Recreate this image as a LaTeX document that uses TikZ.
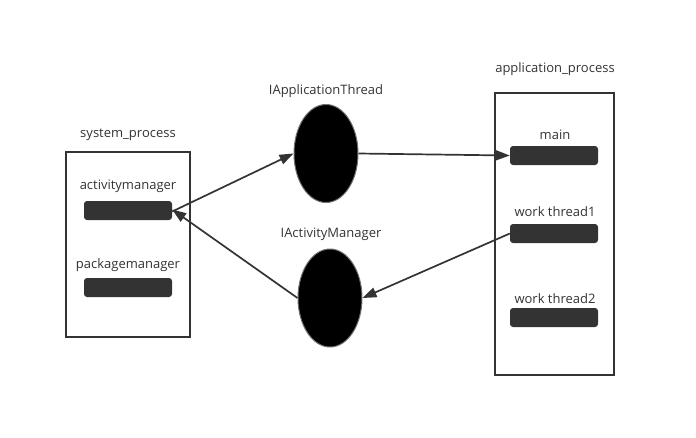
\documentclass[tikz,border=0pt]{standalone}
\usepackage{fontspec}
\setmainfont{Open Sans}
\usetikzlibrary{arrows.meta,shapes.geometric}
\definecolor{dk}{HTML}{333333}
\begin{document}
\begin{tikzpicture}[x=1pt,y=-1pt,
  lbl/.style={font=\fontsize{13}{15}\selectfont, text=dk, inner sep=0pt},
  frame/.style={draw=dk, line width=1.7pt, inner sep=0pt},
  bar/.style={fill=dk, rounded corners=3pt, minimum width=88pt, minimum height=19pt, inner sep=0pt},
  blob/.style={ellipse, fill=black, draw=dk!70, line width=1pt, minimum width=64pt, minimum height=98pt, inner sep=0pt},
  conn/.style={draw=dk, line width=1.7pt, -{Triangle[length=14pt,width=10pt]}}
]
\useasboundingbox (0,0) rectangle (696,437);
% left box
\node[frame, minimum width=124pt, minimum height=185pt] (sys) at (128,244.5) {};
\node[lbl] (syst) at (128,135) {system\_process};
\node[lbl] (amt) at (128,186) {activitymanager};
\node[bar] (am) at (128,210.5) {};
\node[lbl] (pmt) at (128,265) {packagemanager};
\node[bar] (pm) at (128,287.5) {};
% ellipses
\node[lbl] (e1t) at (326,91) {IApplicationThread};
\node[blob] (e1) at (326,153.5) {};
\node[lbl] (e2t) at (331,234) {IActivityManager};
\node[blob] (e2) at (330,298) {};
% right box
\node[frame, minimum width=119pt, minimum height=282pt] (app) at (554.5,234) {};
\node[lbl] (appt) at (555,69) {application\_process};
\node[lbl] (mt) at (555,135) {main};
\node[bar] (main) at (554,155.5) {};
\node[lbl] (w1t) at (555,212) {work thread1};
\node[bar] (w1) at (554,233.5) {};
\node[lbl] (w2t) at (555,299) {work thread2};
\node[bar] (w2) at (554,317.5) {};
% connectors
\draw[conn] ([yshift=-1pt]am.east) -- (e1.west);
\draw[conn] (e1.east) -- (main.west);
\draw[conn] (w1.west) -- (e2.east);
\draw[conn] (e2.west) -- ([yshift=1pt]am.east);
\end{tikzpicture}
\end{document}
